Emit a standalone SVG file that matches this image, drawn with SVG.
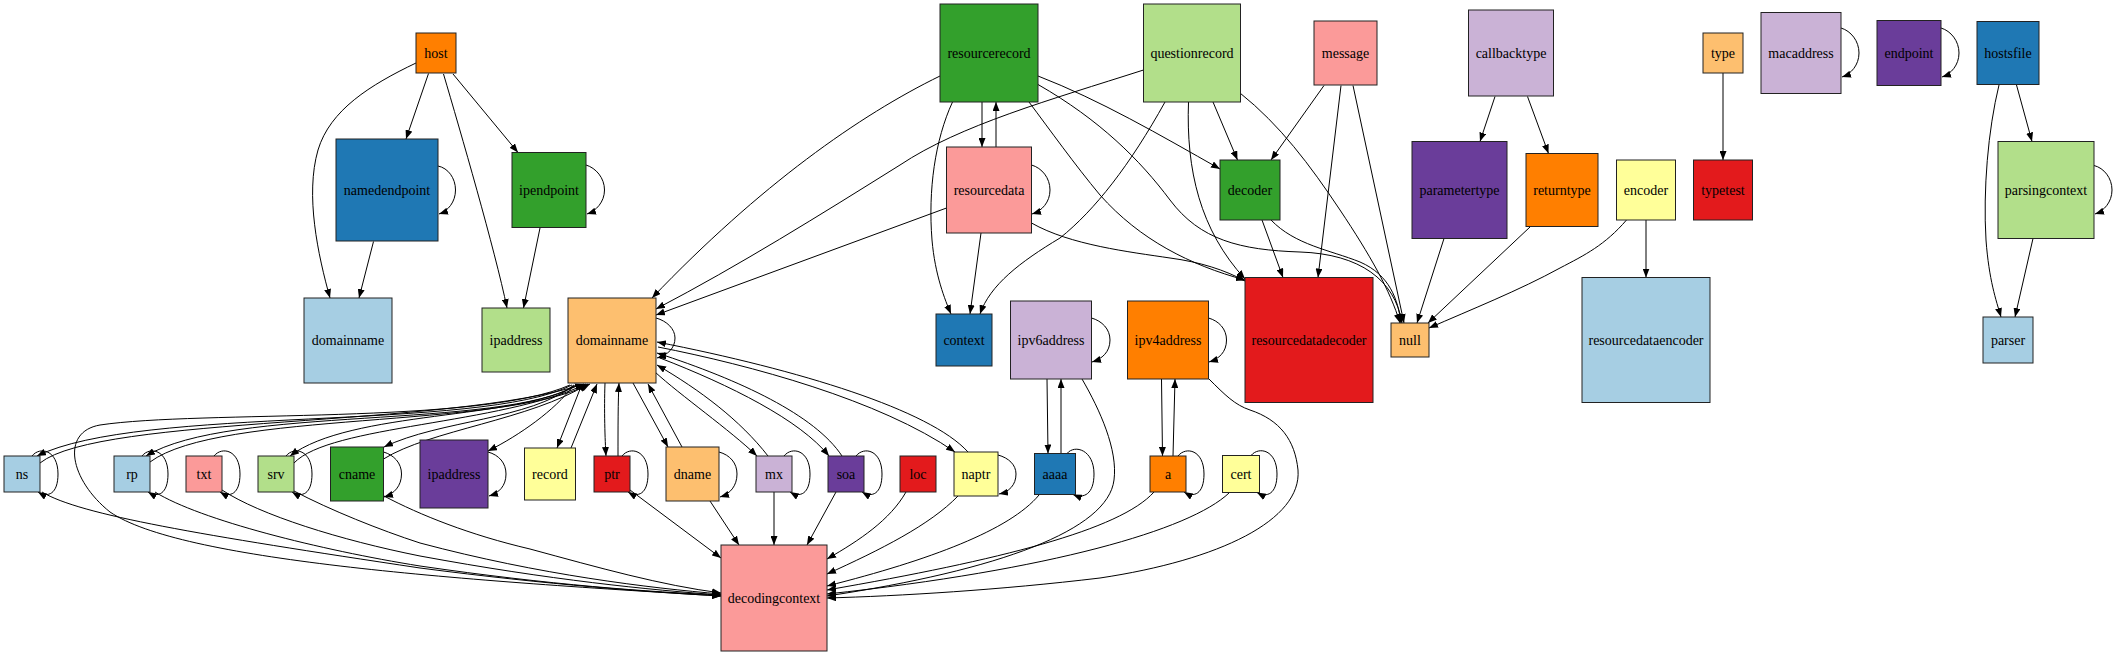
<svg xmlns="http://www.w3.org/2000/svg" width="2116" height="652" viewBox="0 0 2116 652">
<defs>
<marker id="ah" viewBox="0 0 9 7" refX="9" refY="3.5" markerWidth="9" markerHeight="7" markerUnits="userSpaceOnUse" orient="auto">
<path d="M0,0 L9,3.5 L0,7 z" fill="#000"/>
</marker>
<style>
.n rect{stroke:#222;stroke-width:1}
text{font-family:"Liberation Serif","Times New Roman",serif;font-size:14px;text-anchor:middle;fill:#000}
.e path{fill:none;stroke:#000;stroke-width:1;marker-end:url(#ah)}
</style>
</defs>
<rect x="0" y="0" width="2116" height="652" fill="#fff"/>
<g class="e" id="connectors">
<!-- host -->
<path d="M428.5,73.5 L406,139"/>
<path d="M416,63 C370,85 330,110 318,150 C305,195 318,255 330,298"/>
<path d="M443.5,74 C460,130 495,250 507,308"/>
<path d="M453,74 L518,152.5"/>
<path d="M438,166 C448,168 455.5,178 455.5,190 C455.5,202 448,211 439,214"/>
<path d="M373.5,241.5 L359,298"/>
<path d="M586,165 C596,168 604.5,178 604.5,190 C604.5,202 596,211 587,214"/>
<path d="M540,228 L523.5,308"/>
<!-- resourcerecord / resourcedata / questionrecord -->
<path d="M940,76 C860,115 760,185 652,298"/>
<path d="M1143.5,70 C1050,100 960,125 900,165 C820,215 740,265 656,309"/>
<path d="M946.5,208 L656,315"/>
<path d="M982,102 L982,147"/>
<path d="M996,147 L996,102"/>
<path d="M1031.5,165 C1042,168 1050,178 1050,190 C1050,202 1042,211 1032,214"/>
<path d="M952.5,102 C935,140 928,190 932,240 C935,275 945,300 951,314"/>
<path d="M981,233 L970,314"/>
<path d="M1165,102 C1130,165 1095,210 1060,238 C1020,262 990,285 980,314"/>
<path d="M1038,76 C1100,100 1160,135 1220,169"/>
<path d="M1038,84.5 C1100,120 1140,160 1170,200 C1200,240 1240,250 1300,252 C1360,254 1395,280 1402,323"/>
<path d="M1029,102 C1050,130 1075,165 1100,195 C1140,240 1190,265 1245,280"/>
<path d="M1031.5,223 C1070,245 1130,252 1170,258 C1200,262 1225,270 1245,281"/>
<path d="M1188.5,102 C1186,170 1200,230 1245,279"/>
<path d="M1213,102 L1237.5,160"/>
<path d="M1240,93 C1280,125 1310,165 1340,210 C1370,255 1390,290 1400,323"/>
<path d="M1324,85.5 L1271,160"/>
<path d="M1341,85.5 L1318,277.5"/>
<path d="M1353,85.5 L1404,323"/>
<path d="M1262,220 L1283,277.5"/>
<path d="M1271,220 C1295,245 1330,250 1360,262 C1390,275 1398,300 1401,323"/>
<path d="M1444,238.5 L1417,323"/>
<path d="M1530,227 L1428,323"/>
<path d="M1626.5,220 C1605,245 1585,255 1560,268 C1520,290 1470,310 1429,328"/>
<path d="M1495,96.5 L1480,141.5"/>
<path d="M1527.5,96.5 L1548.5,153.5"/>
<path d="M1646,220 L1646,277.5"/>
<path d="M1723,73 L1723,160"/>
<path d="M1841,28 C1851,31 1859,41 1859,53 C1859,65 1851,74 1842,77"/>
<path d="M1941,28 C1951,31 1959,41 1959,53 C1959,65 1951,74 1942,77"/>
<path d="M2016.5,85 L2032,141.5"/>
<path d="M1999,85 C1988,130 1983,190 1986,240 C1989,280 1996,300 2001,317"/>
<path d="M2033,238.5 L2015,317"/>
<path d="M2094,165.5 C2104,168 2112,178 2112,190 C2112,202 2104,211 2095,214"/>
<!-- domainname (orange) -->
<path d="M656,318 C667,321 675,329 675,338 C675,348 668,355 657,358"/>
<path d="M655,372 C680,395 730,430 757,456"/>
<path d="M768,456 C740,420 700,390 657,365"/>
<path d="M660,358 C730,385 800,420 829,456"/>
<path d="M842,456 C815,415 740,380 657,353"/>
<path d="M658,347 C750,365 880,400 955,452"/>
<path d="M968,452 C930,410 800,370 657,342"/>
<path d="M633,383 L668,447"/>
<path d="M682,447 L648,384"/>
<path d="M605,383 C604,410 605,440 606,456"/>
<path d="M618,456 C618,430 618,400 619,383"/>
<path d="M582,384 L557,448"/>
<path d="M571,448 L597,384"/>
<path d="M573,386 C555,410 520,435 488,451"/>
<path d="M574,385 C530,420 440,420 384,447"/>
<path d="M383.5,459 C430,430 530,420 588,384"/>
<path d="M576,385 C520,420 350,410 290,456"/>
<path d="M294,463 C330,425 500,425 586,384"/>
<path d="M578,385 C500,430 230,405 146,456"/>
<path d="M150,462 C220,410 500,430 590,384"/>
<path d="M572,385 C480,432 140,405 37,456"/>
<path d="M40,463 C100,415 450,428 584,384"/>
<path d="M570,385 C480,425 200,410 100,425 C60,432 70,480 110,512 C180,560 450,580 721,596"/>
<!-- row 4 self loops -->
<path d="M32,456 C40,446 58,450 58,474 C58,494 48,498 38,492"/>
<path d="M142,456 C150,446 168,450 168,474 C168,494 158,498 148,492"/>
<path d="M214,456 C222,446 240,450 240,474 C240,494 230,498 220,492"/>
<path d="M286,456 C294,446 312,450 312,474 C312,494 302,498 292,492"/>
<path d="M383.5,452 C394,455 401.5,463 401.5,474 C401.5,486 394,494 384,497"/>
<path d="M488,452 C499,455 506,463 506,474 C506,486 499,493 489,496"/>
<path d="M622,456 C630,446 648,450 648,474 C648,494 638,498 628,492"/>
<path d="M719,452 C730,455 737,463 737,474 C737,486 730,494 720,497"/>
<path d="M784,456 C792,446 810,450 810,474 C810,494 800,498 790,492"/>
<path d="M856,456 C864,446 882,450 882,474 C882,494 872,498 862,492"/>
<path d="M998,455 C1009,458 1016,465 1016,474 C1016,485 1009,492 999,494"/>
<path d="M1067,453.5 C1075,444 1094,450 1094,474 C1094,494 1084,499 1073,494.5"/>
<path d="M1178,456 C1186,446 1204,450 1204,474 C1204,494 1194,498 1184,492"/>
<path d="M1251,455.5 C1259,446 1277,450 1277,474 C1277,494 1267,498 1257,492.5"/>
<path d="M1091.5,318 C1102,321 1110,329 1110,340 C1110,352 1102,359 1092,362"/>
<path d="M1208.5,318 C1219,321 1226.5,329 1226.5,340 C1226.5,352 1219,359 1209,362"/>
<!-- ipv6 / ipv4 -->
<path d="M1047,379 L1048,453.5"/>
<path d="M1061,453.5 L1061,379"/>
<path d="M1161.5,379 L1162.5,456"/>
<path d="M1173,456 L1175,379"/>
<!-- to decodingcontext -->
<path d="M42,492 C80,515 200,535 420,568 C550,585 650,592 721,596"/>
<path d="M155,492 C200,520 320,550 420,566 C550,585 650,592 721,595"/>
<path d="M222,490 C260,515 340,540 420,556 C550,580 650,590 721,595"/>
<path d="M294,491 C330,510 380,530 420,543 C540,575 650,588 721,594"/>
<path d="M384,496 C420,515 470,535 530,549 C600,568 660,585 721,593"/>
<path d="M630,490 L721,558"/>
<path d="M710,501 L739,545"/>
<path d="M774,492 L774,545"/>
<path d="M836,492 L807,545"/>
<path d="M906,492 C890,520 860,540 827,559"/>
<path d="M958,496 C930,525 880,550 827,574"/>
<path d="M1039,495 C1010,530 930,560 827,586"/>
<path d="M1154,492 C1120,530 1000,560 827,590"/>
<path d="M1229,493 C1190,530 1050,570 827,594"/>
<path d="M1082,379 C1100,410 1118,450 1114,480 C1108,530 1000,570 827,596"/>
<path d="M1209,379 C1225,395 1235,405 1250,410 C1280,420 1295,440 1298,470 C1302,520 1220,560 1100,578 C1000,590 900,596 827,598"/>
</g>
<g id="n-host" class="n"><rect x="416" y="33" width="40" height="40" fill="#ff7f00"/><text x="436" y="58">host</text></g>
<g id="n-namedendpoint" class="n"><rect x="336" y="139" width="102" height="102" fill="#1f78b4"/><text x="387" y="195">namedendpoint</text></g>
<g id="n-ipendpoint" class="n"><rect x="512" y="152.5" width="74" height="75" fill="#33a02c"/><text x="549" y="195">ipendpoint</text></g>
<g id="n-domainname-1" class="n"><rect x="304" y="298" width="88" height="85" fill="#a6cee3"/><text x="348" y="345">domainname</text></g>
<g id="n-ipaddress-1" class="n"><rect x="482" y="308" width="68" height="64" fill="#b2df8a"/><text x="516" y="345">ipaddress</text></g>
<g id="n-resourcerecord" class="n"><rect x="940" y="4" width="98" height="98" fill="#33a02c"/><text x="989" y="58">resourcerecord</text></g>
<g id="n-resourcedata" class="n"><rect x="946.5" y="147" width="85" height="86" fill="#fb9a99"/><text x="989" y="195">resourcedata</text></g>
<g id="n-questionrecord" class="n"><rect x="1143.5" y="4" width="97" height="98" fill="#b2df8a"/><text x="1192" y="58">questionrecord</text></g>
<g id="n-message" class="n"><rect x="1314" y="21" width="63" height="64" fill="#fb9a99"/><text x="1345.5" y="58">message</text></g>
<g id="n-callbacktype" class="n"><rect x="1468.5" y="10" width="85" height="86" fill="#cab2d6"/><text x="1511" y="58">callbacktype</text></g>
<g id="n-decoder" class="n"><rect x="1220" y="160" width="60" height="60" fill="#33a02c"/><text x="1250" y="195">decoder</text></g>
<g id="n-parametertype" class="n"><rect x="1412" y="141.5" width="95" height="97" fill="#6a3d9a"/><text x="1459.5" y="195">parametertype</text></g>
<g id="n-returntype" class="n"><rect x="1526" y="153.5" width="72" height="73" fill="#ff7f00"/><text x="1562" y="195">returntype</text></g>
<g id="n-encoder" class="n"><rect x="1616.5" y="160" width="59" height="60" fill="#ffff99"/><text x="1646" y="195">encoder</text></g>
<g id="n-type" class="n"><rect x="1703" y="33" width="40" height="40" fill="#fdbf6f"/><text x="1723" y="58">type</text></g>
<g id="n-typetest" class="n"><rect x="1693.5" y="160" width="59" height="60" fill="#e31a1c"/><text x="1723" y="195">typetest</text></g>
<g id="n-macaddress" class="n"><rect x="1761" y="12.5" width="80" height="81" fill="#cab2d6"/><text x="1801" y="58">macaddress</text></g>
<g id="n-endpoint" class="n"><rect x="1877" y="20.5" width="64" height="65" fill="#6a3d9a"/><text x="1909" y="58">endpoint</text></g>
<g id="n-hostsfile" class="n"><rect x="1977" y="21.5" width="62" height="63" fill="#1f78b4"/><text x="2008" y="58">hostsfile</text></g>
<g id="n-parsingcontext" class="n"><rect x="1998" y="141.5" width="96" height="97" fill="#b2df8a"/><text x="2046" y="195">parsingcontext</text></g>
<g id="n-parser" class="n"><rect x="1983" y="317" width="50" height="46" fill="#a6cee3"/><text x="2008" y="345">parser</text></g>
<g id="n-domainname-2" class="n"><rect x="568" y="298" width="88" height="85" fill="#fdbf6f"/><text x="612" y="345">domainname</text></g>
<g id="n-context" class="n"><rect x="936" y="314" width="56" height="52" fill="#1f78b4"/><text x="964" y="345">context</text></g>
<g id="n-ipv6address" class="n"><rect x="1010.5" y="301" width="81" height="78" fill="#cab2d6"/><text x="1051" y="345">ipv6address</text></g>
<g id="n-ipv4address" class="n"><rect x="1127.5" y="301" width="81" height="78" fill="#ff7f00"/><text x="1168" y="345">ipv4address</text></g>
<g id="n-resourcedatadecoder" class="n"><rect x="1245" y="277.5" width="128" height="125" fill="#e31a1c"/><text x="1309" y="345">resourcedatadecoder</text></g>
<g id="n-null" class="n"><rect x="1391" y="323" width="38" height="34" fill="#fdbf6f"/><text x="1410" y="345">null</text></g>
<g id="n-resourcedataencoder" class="n"><rect x="1582" y="277.5" width="128" height="125" fill="#a6cee3"/><text x="1646" y="345">resourcedataencoder</text></g>
<g id="n-ns" class="n"><rect x="4" y="456" width="36" height="36" fill="#a6cee3"/><text x="22" y="479">ns</text></g>
<g id="n-rp" class="n"><rect x="114" y="456" width="36" height="36" fill="#a6cee3"/><text x="132" y="479">rp</text></g>
<g id="n-txt" class="n"><rect x="186" y="456" width="36" height="36" fill="#fb9a99"/><text x="204" y="479">txt</text></g>
<g id="n-srv" class="n"><rect x="258" y="456" width="36" height="36" fill="#b2df8a"/><text x="276" y="479">srv</text></g>
<g id="n-cname" class="n"><rect x="330.5" y="447" width="53" height="54" fill="#33a02c"/><text x="357" y="479">cname</text></g>
<g id="n-ipaddress-2" class="n"><rect x="420" y="440" width="68" height="68" fill="#6a3d9a"/><text x="454" y="479">ipaddress</text></g>
<g id="n-record" class="n"><rect x="524.5" y="448" width="51" height="52" fill="#ffff99"/><text x="550" y="479">record</text></g>
<g id="n-ptr" class="n"><rect x="594" y="456" width="36" height="36" fill="#e31a1c"/><text x="612" y="479">ptr</text></g>
<g id="n-dname" class="n"><rect x="666" y="447" width="53" height="54" fill="#fdbf6f"/><text x="692.5" y="479">dname</text></g>
<g id="n-mx" class="n"><rect x="756" y="456" width="36" height="36" fill="#cab2d6"/><text x="774" y="479">mx</text></g>
<g id="n-soa" class="n"><rect x="828" y="456" width="36" height="36" fill="#6a3d9a"/><text x="846" y="479">soa</text></g>
<g id="n-loc" class="n"><rect x="900" y="456" width="36" height="36" fill="#e31a1c"/><text x="918" y="479">loc</text></g>
<g id="n-naptr" class="n"><rect x="954" y="452" width="44" height="44" fill="#ffff99"/><text x="976" y="479">naptr</text></g>
<g id="n-aaaa" class="n"><rect x="1034.5" y="453.5" width="41" height="41" fill="#1f78b4"/><text x="1055" y="479">aaaa</text></g>
<g id="n-a" class="n"><rect x="1150" y="456" width="36" height="36" fill="#ff7f00"/><text x="1168" y="479">a</text></g>
<g id="n-cert" class="n"><rect x="1222.5" y="455.5" width="37" height="37" fill="#ffff99"/><text x="1241" y="479">cert</text></g>
<g id="n-decodingcontext" class="n"><rect x="721" y="545" width="106" height="106" fill="#fb9a99"/><text x="774" y="603">decodingcontext</text></g>
</svg>
